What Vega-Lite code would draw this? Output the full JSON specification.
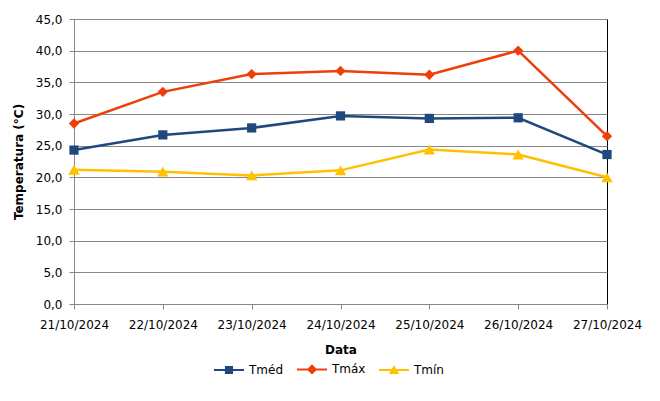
{
  "$schema": "https://vega.github.io/schema/vega-lite/v6.json",
  "autosize": "none",
  "width": 533,
  "height": 285,
  "padding": {"left": 74, "top": 19, "right": 53, "bottom": 97},
  "background": "white",
  "data": {
    "values": [
      {"data": "21/10/2024", "serie": "Tméd", "temp": 24.3},
      {"data": "22/10/2024", "serie": "Tméd", "temp": 26.7},
      {"data": "23/10/2024", "serie": "Tméd", "temp": 27.8},
      {"data": "24/10/2024", "serie": "Tméd", "temp": 29.7},
      {"data": "25/10/2024", "serie": "Tméd", "temp": 29.3},
      {"data": "26/10/2024", "serie": "Tméd", "temp": 29.4},
      {"data": "27/10/2024", "serie": "Tméd", "temp": 23.6},
      {"data": "21/10/2024", "serie": "Tmáx", "temp": 28.5},
      {"data": "22/10/2024", "serie": "Tmáx", "temp": 33.5},
      {"data": "23/10/2024", "serie": "Tmáx", "temp": 36.3},
      {"data": "24/10/2024", "serie": "Tmáx", "temp": 36.8},
      {"data": "25/10/2024", "serie": "Tmáx", "temp": 36.2},
      {"data": "26/10/2024", "serie": "Tmáx", "temp": 40.0},
      {"data": "27/10/2024", "serie": "Tmáx", "temp": 26.5},
      {"data": "21/10/2024", "serie": "Tmín", "temp": 21.2},
      {"data": "22/10/2024", "serie": "Tmín", "temp": 20.9},
      {"data": "23/10/2024", "serie": "Tmín", "temp": 20.3},
      {"data": "24/10/2024", "serie": "Tmín", "temp": 21.1},
      {"data": "25/10/2024", "serie": "Tmín", "temp": 24.4},
      {"data": "26/10/2024", "serie": "Tmín", "temp": 23.6},
      {"data": "27/10/2024", "serie": "Tmín", "temp": 20.0}
    ]
  },
  "encoding": {
    "x": {
      "field": "data",
      "type": "ordinal",
      "title": "Data",
      "scale": {"type": "point", "padding": 0},
      "axis": {
        "labelAngle": 0,
        "domainColor": "#868686",
        "tickColor": "#868686",
        "tickSize": 5,
        "labelPadding": 10,
        "titlePadding": 14
      }
    },
    "y": {
      "field": "temp",
      "type": "quantitative",
      "title": "Temperatura (°C)",
      "scale": {"domain": [0, 45], "nice": false},
      "axis": {
        "values": [0, 5, 10, 15, 20, 25, 30, 35, 40, 45],
        "labelExpr": "replace(format(datum.value, '.1f'), '.', ',')",
        "domainColor": "#868686",
        "tickColor": "#868686",
        "gridColor": "#868686",
        "tickSize": 5,
        "labelPadding": 7,
        "titlePadding": 10
      }
    },
    "color": {
      "field": "serie",
      "type": "nominal",
      "scale": {
        "domain": ["Tméd", "Tmáx", "Tmín"],
        "range": ["#1F497D", "#EE3F0A", "#FFC000"]
      },
      "legend": null
    }
  },
  "layer": [
    {
      "mark": {"type": "line", "strokeWidth": 2.5}
    },
    {
      "mark": {"type": "point", "filled": true, "opacity": 1},
      "encoding": {
        "shape": {
          "field": "serie",
          "type": "nominal",
          "scale": {
            "domain": ["Tméd", "Tmáx", "Tmín"],
            "range": ["square", "diamond", "triangle-up"]
          },
          "legend": null
        },
        "size": {
          "field": "serie",
          "type": "nominal",
          "scale": {
            "domain": ["Tméd", "Tmáx", "Tmín"],
            "range": [85, 130, 110]
          },
          "legend": null
        }
      }
    },
    {
      "mark": {"type": "point", "filled": true, "opacity": 0},
      "encoding": {
        "color": {
          "field": "serie",
          "type": "nominal",
          "scale": {
            "domain": ["Tméd", "Tmáx", "Tmín"],
            "range": ["#1F497D", "#EE3F0A", "#FFC000"]
          },
          "legend": {
            "title": null,
            "orient": "none",
            "direction": "horizontal",
            "legendX": 139,
            "legendY": 334,
            "symbolSize": 900,
            "symbolOpacity": 1,
            "labelOffset": 4,
            "columnPadding": 10
          }
        },
        "shape": {
          "field": "serie",
          "type": "nominal",
          "scale": {
            "domain": ["Tméd", "Tmáx", "Tmín"],
            "range": [
              "M-1,-0.07H1V0.07H-1ZM-0.27,-0.27H0.27V0.27H-0.27Z",
              "M-1,-0.07H1V0.07H-1ZM0,-0.34L0.34,0L0,0.34L-0.34,0Z",
              "M-1,-0.07H1V0.07H-1ZM0,-0.32L0.34,0.26H-0.34Z"
            ]
          },
          "legend": {
            "title": null,
            "orient": "none",
            "direction": "horizontal",
            "legendX": 139,
            "legendY": 334,
            "symbolSize": 900,
            "symbolOpacity": 1,
            "labelOffset": 4,
            "columnPadding": 10
          }
        }
      }
    }
  ],
  "resolve": {"scale": {"color": "independent", "shape": "independent", "size": "independent"}},
  "config": {
    "font": "DejaVu Sans",
    "view": {"stroke": "#000000", "strokeWidth": 1},
    "axis": {
      "labelFont": "DejaVu Sans",
      "labelFontSize": 12,
      "labelColor": "#000000",
      "titleFont": "DejaVu Sans",
      "titleFontSize": 12,
      "titleFontWeight": "bold",
      "titleColor": "#000000"
    },
    "axisX": {"grid": false},
    "legend": {
      "labelFont": "DejaVu Sans",
      "labelFontSize": 12,
      "labelColor": "#000000"
    }
  }
}
